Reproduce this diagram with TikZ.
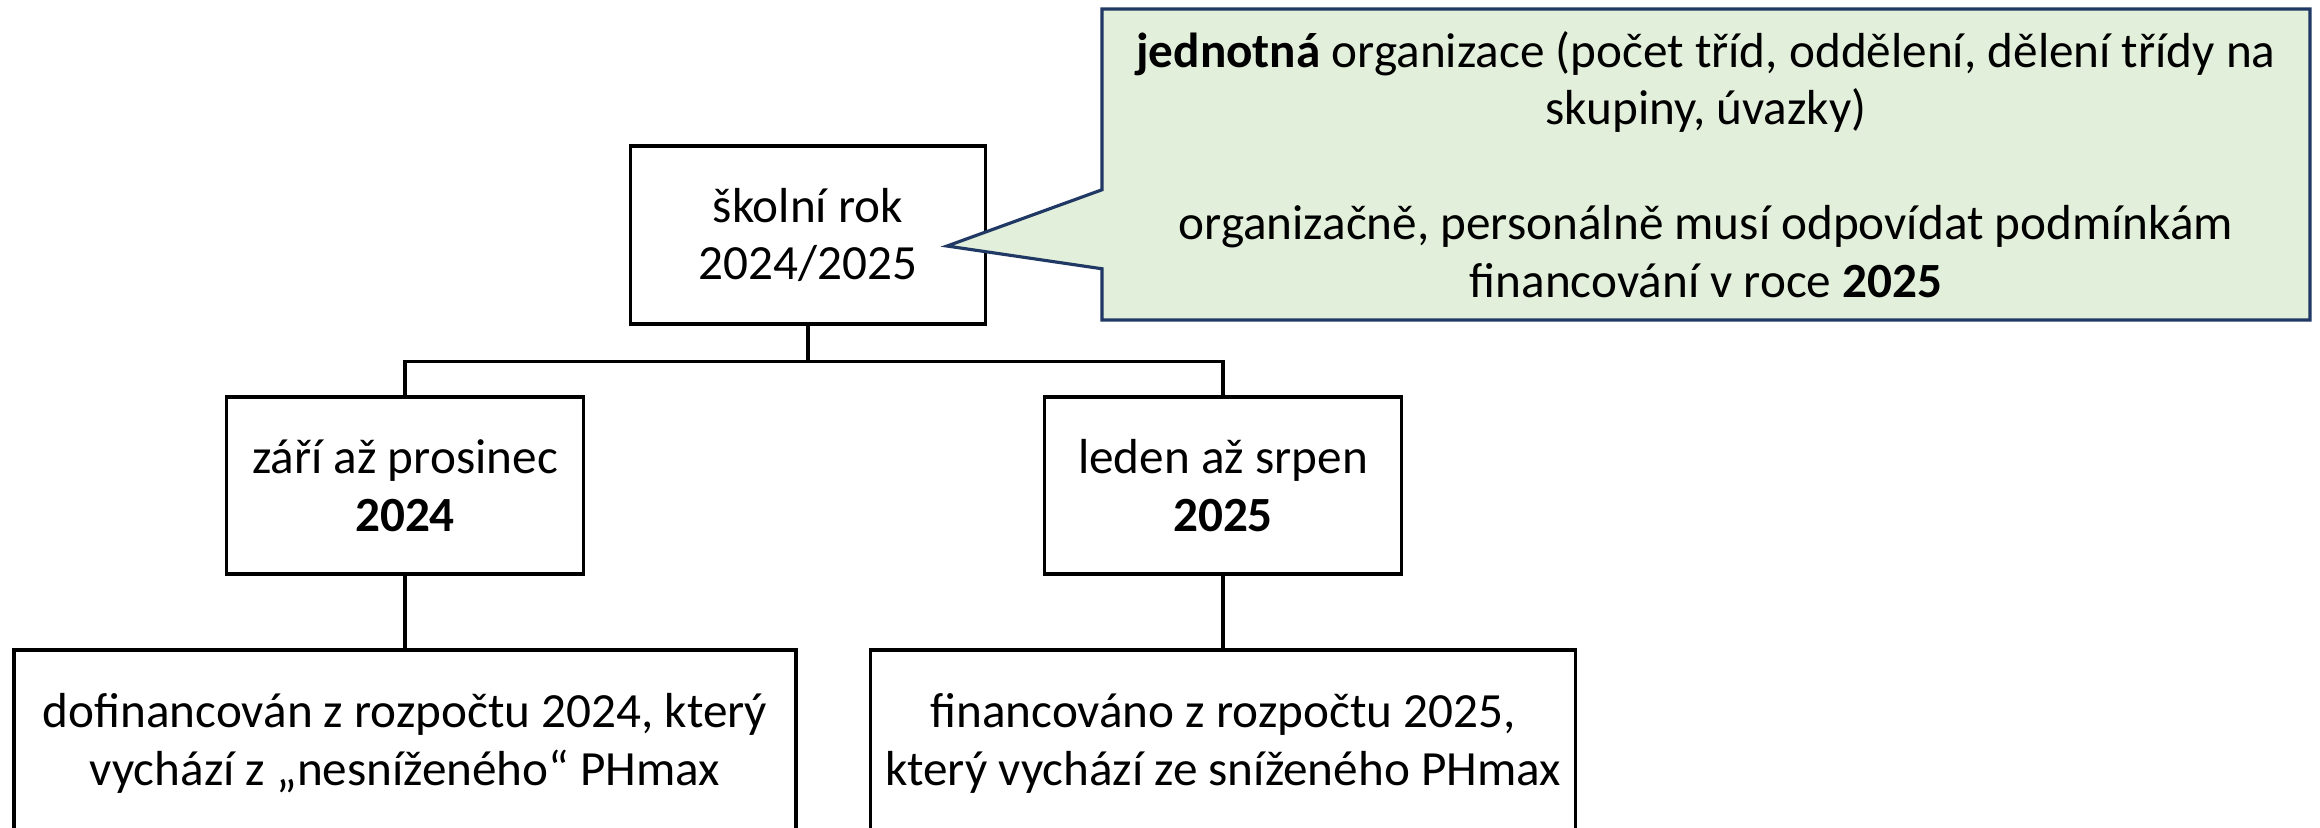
\documentclass[tikz,border=0pt]{standalone}
\usepackage{fontspec}
\setmainfont{Carlito}
\usetikzlibrary{shapes.callouts}
\definecolor{notefill}{HTML}{E2EFDA}
\definecolor{noteline}{HTML}{203864}

\begin{document}
\begin{tikzpicture}[
        box/.style={rectangle, draw, line width=0.9pt, align=center, inner sep=0pt, font=\fontsize{14}{16.4}\selectfont},
        link/.style={line width=0.9pt},
    ]
            \path[use as bounding box, clip] (0, 0) rectangle (23.2, -8.27);

            \node[box, minimum width=3.55cm, minimum height=1.78cm] at (8.08, -2.35) (rok) {školní rok\\2024/2025};
            \node[box, minimum width=3.57cm, minimum height=1.77cm] at (4.05, -4.855) (zari) {září až prosinec\\\textbf{2024}};
            \node[box, minimum width=3.57cm, minimum height=1.77cm] at (12.23, -4.855) (leden) {leden až srpen\\\textbf{2025}};
            \node[box, minimum width=7.82cm, minimum height=1.87cm] at (4.05, -7.435) (dofin) {dofinancován z rozpočtu 2024, který\\vychází z „nesníženého“ PHmax};
            \node[box, minimum width=7.05cm, minimum height=1.87cm] at (12.23, -7.435) (fin) {financováno z rozpočtu 2025,\\který vychází ze sníženého PHmax};

            \node[box, rectangle callout, fill=notefill, draw=noteline, minimum width=12.08cm, minimum height=3.11cm,
                  callout absolute pointer={(9.47, -2.46)}, callout pointer width=0.79cm] at (17.06, -1.645) (pozn)
                  {\textbf{jednotná} organizace (počet tříd, oddělení, dělení třídy na\\skupiny, úvazky)\\[16.4pt]
                   organizačně, personálně musí odpovídat podmínkám\\financování v roce \textbf{2025}};

            \draw[link] (rok.south) -- ++(0, -0.36) -| (zari.north);
            \draw[link] (rok.south) -- ++(0, -0.36) -| (leden.north);
            \draw[link] (zari) -- (dofin);
            \draw[link] (leden) -- (fin);
        \end{tikzpicture}
\end{document}
